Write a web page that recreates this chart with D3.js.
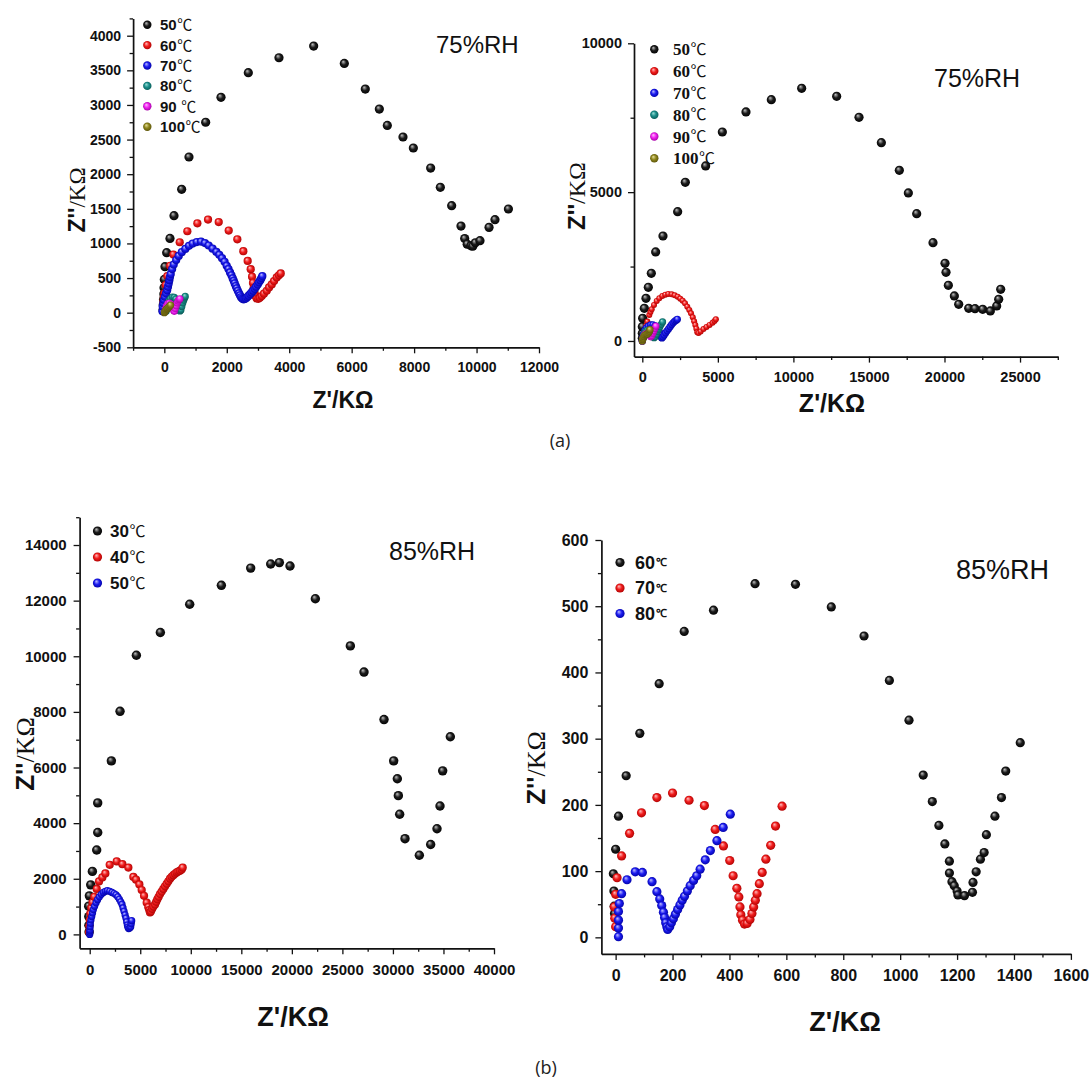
<!DOCTYPE html>
<html>
<head>
<meta charset="utf-8">
<script src="https://cdn.jsdelivr.net/npm/d3@7"></script>
<style>
  body { margin: 0; background: #fff; }
  svg { display: block; }
</style>
</head>
<body>
<svg id="fig" width="1092" height="1081"></svg>
<script>
// ---------------- Nyquist data: [Z' (kΩ), Z'' (kΩ)] ----------------
// (a) left, 75%RH
const a1_50C = [[-40,40],[-35,110],[-25,190],[-15,270],[-10,360],[0,480],[21,664],[75,866],[181,1073],[310,1401],[555,1781],[790,2248],[1324,2750],[1815,3110],[2690,3466],[3672,3682],[4783,3851],[5765,3600],[6437,3230],[6886,2941],[7142,2705],[7644,2537],[7975,2378],[8530,2089],[8840,1810],[9203,1545],[9502,1251],[9620,1070],[9700,990],[9820,965],[9880,960],[9960,1010],[10110,1040],[10400,1232],[10590,1343],[11020,1497]];
const a1_60C = [[-40,20],[-35,70],[-30,120],[-25,170],[-15,225],[0,280],[43,399],[96,528],[185,678],[290,840],[493,1017],[737,1176],[1058,1291],[1400,1344],[1742,1309],[2062,1186],[2338,1060],[2530,888],[2670,748],[2767,628],[2810,520],[2840,430],[2860,351],[2890,290],[2920,240],[2960,205],[3010,200],[3060,215],[3120,240],[3190,275],[3280,317],[3354,365],[3440,408],[3514,456],[3600,509],[3670,540],[3728,567]];
const a1_70C = [[-60,20],[-51,86],[-30,135],[-10,183],[20,230],[54,279],[90,325],[118,374],[140,420],[160,470],[180,515],[205,557],[250,630],[301,696],[380,760],[461,820],[560,875],[673,921],[790,965],[909,998],[1040,1020],[1175,1027],[1300,1005],[1421,970],[1545,925],[1667,878],[1760,835],[1848,787],[1930,735],[1998,677],[2055,630],[2104,581],[2150,540],[2190,495],[2225,460],[2254,423],[2290,385],[2318,351],[2355,315],[2393,279],[2425,250],[2457,222],[2495,203],[2530,193],[2575,197],[2617,207],[2660,225],[2702,245],[2750,268],[2798,293],[2845,318],[2895,345],[2940,375],[2991,408],[3030,440],[3075,470],[3110,500],[3139,528]];
const a1_80C = [[60,20],[80,70],[110,120],[150,170],[200,205],[260,225],[320,220],[370,195],[410,150],[440,100],[470,55],[500,25],[530,40],[560,90],[590,140],[620,180],[650,215],[670,235]];
const a1_90C = [[20,20],[40,60],[70,100],[110,130],[160,140],[210,125],[250,95],[280,60],[300,30],[320,20],[350,60],[380,100],[410,140],[440,170],[470,190],[500,200]];
const a1_100C = [[0,0],[20,15],[40,30],[60,45],[85,55],[110,65],[140,80],[170,95],[200,110]];

// (a) right, 75%RH
const a2_50C = [[0,90],[0,260],[0,480],[22,761],[132,1097],[243,1433],[397,1803],[596,2273],[883,2990],[1368,3527],[2339,4345],[2846,5330],[4192,5879],[5296,7021],[6862,7693],[8539,8107],[10547,8488],[12864,8219],[14342,7514],[15821,6663],[17012,5733],[17608,4972],[18160,4278],[19241,3303],[20035,2609],[20101,2307],[20256,1870],[20653,1512],[20940,1232],[21602,1097],[22021,1086],[22528,1064],[23036,1008],[23455,1176],[23588,1400],[23720,1736]];
const a2_60C = [[0,30],[20,100],[50,180],[100,270],[179,370],[250,510],[331,650],[463,873],[540,970],[622,1064],[774,1209],[953,1344],[1125,1434],[1324,1512],[1522,1556],[1721,1579],[1946,1568],[2144,1534],[2343,1489],[2515,1422],[2674,1355],[2826,1265],[2978,1153],[3111,1041],[3223,929],[3340,795],[3430,661],[3510,537],[3580,414],[3640,290],[3720,270],[3860,320],[4050,400],[4250,470],[4450,540],[4650,610],[4780,670],[4870,728]];
const a2_70C = [[0,0],[30,120],[80,240],[160,350],[270,440],[400,500],[550,540],[700,545],[850,510],[980,440],[1080,360],[1160,270],[1220,190],[1270,120],[1300,100],[1370,140],[1450,200],[1540,270],[1640,340],[1740,410],[1840,480],[1940,550],[2040,610],[2140,660],[2240,700],[2320,730]];
const a2_80C = [[0,0],[30,100],[80,190],[150,270],[240,330],[340,360],[450,350],[560,300],[650,230],[720,160],[780,110],[840,140],[920,230],[1000,320],[1080,400],[1160,480],[1250,560],[1340,640]];
const a2_90C = [[0,0],[30,80],[80,150],[150,210],[240,250],[340,260],[430,230],[500,180],[560,140],[620,180],[690,260],[760,340],[830,420],[900,500]];
const a2_100C = [[0,0],[20,50],[50,100],[100,150],[160,190],[230,215],[300,230],[360,240],[420,280],[470,330],[510,380]];

// (b) left, 85%RH
const b1_30C = [[-60,90],[-80,330],[-90,640],[-100,1015],[-33,1386],[99,1782],[264,2265],[692,3033],[791,3664],[791,4728],[2143,6239],[3001,8021],[4617,10038],[6991,10856],[9893,11871],[13026,12551],[15928,13170],[17906,13319],[18764,13368],[19819,13244],[22325,12069],[25787,10373],[27139,9432],[29118,7724],[30074,6239],[30437,5595],[30536,4988],[30668,4320],[31195,3441],[32613,2847],[33734,3231],[34361,3800],[34658,4617],[34922,5880],[35680,7105]];
const b1_40C = [[-60,80],[-40,300],[0,520],[60,750],[150,950],[280,1150],[450,1350],[692,1634],[923,1906],[1250,2050],[1550,2191],[1979,2500],[2671,2624],[3232,2525],[3825,2401],[4320,2067],[4584,1968],[4913,1795],[5144,1597],[5375,1386],[5639,1139],[5800,980],[5900,870],[5969,790],[6060,830],[6180,920],[6300,1000],[6463,1077],[6580,1170],[6694,1263],[6820,1350],[6958,1448],[7120,1540],[7288,1634],[7450,1730],[7617,1820],[7780,1910],[7947,2005],[8110,2070],[8277,2129],[8440,2180],[8607,2228],[8770,2260],[8937,2290],[9100,2330],[9200,2401]];
const b1_50C = [[0,0],[10,80],[20,150],[40,270],[60,396],[120,520],[198,644],[280,770],[363,891],[480,1010],[627,1139],[780,1250],[956,1349],[1150,1440],[1352,1510],[1550,1550],[1748,1572],[1980,1550],[2209,1510],[2410,1470],[2605,1423],[2780,1350],[2935,1263],[3070,1170],[3199,1077],[3300,950],[3397,829],[3500,700],[3594,582],[3660,450],[3726,334],[3780,260],[3858,210],[3960,230],[4056,272],[4110,380],[4155,495]];

// (b) right, 85%RH
const b2_60C = [[-4,36],[-5,47],[-6,70],[-8,96],[0,133],[10,183],[37,244],[85,308],[153,383],[241,462],[344,494],[490,534],[632,533],[758,499],[873,455],[962,388],[1031,328],[1081,245],[1113,205],[1136,169],[1157,141],[1173,115],[1173,97],[1182,84],[1190,78],[1200,70],[1203,64],[1226,63],[1254,68],[1256,83],[1267,99],[1282,118],[1295,128],[1303,155],[1333,183],[1356,211],[1371,251],[1422,294]];
const b2_70C = [[0,16],[-3,29],[-5,46],[0,65],[5,90],[21,123],[49,157],[91,188],[145,211],[200,218],[258,207],[312,199],[350,163],[379,138],[401,116],[413,93],[426,74],[433,61],[437,46],[440,34],[446,26],[453,20],[462,21],[472,27],[479,36],[485,46],[491,56],[497,66],[505,81],[515,98],[528,118],[545,139],[562,168],[585,198]];
const b2_80C = [[10,1],[10,14],[10,26],[10,39],[13,51],[21,66],[40,87],[69,99],[94,98],[128,84],[145,69],[155,58],[162,48],[168,38],[172,30],[176,22],[180,16],[183,12],[190,16],[196,22],[203,28],[210,35],[218,42],[226,49],[234,56],[242,62],[252,70],[262,78],[274,86],[285,93],[297,103],[315,117],[333,131],[356,146],[378,166],[403,186]];

// ---------------- text ----------------
const legendA1 = ['50', '60', '70', '80', '90 ', '100'];
const legendA2 = ['50', '60', '70', '80', '90', '100'];
const legendB1 = ['30', '40', '50'];
const legendB2 = ['60', '70', '80'];
const degreeSign = '℃';
const rhLabels = ['75%RH', '75%RH', '85%RH', '85%RH'];
const captions = ['(a)', '(b)'];
const xTitle = "Z'/KΩ";

// x / y tick values
const a1xMajor = d3.range(0, 12001, 2000),  a1xMinor = d3.range(-1000, 12000, 2000);
const a1yMajor = d3.range(-500, 4001, 500), a1yMinor = d3.range(-250, 4251, 500);
const a2xMajor = d3.range(0, 25001, 5000),  a2xMinor = d3.range(2500, 27501, 5000);
const a2yMajor = [0, 5000, 10000],          a2yMinor = [2500, 7500];
const b1xMajor = d3.range(0, 40001, 5000),  b1xMinor = d3.range(2500, 40000, 5000);
const b1yMajor = d3.range(0, 14001, 2000),  b1yMinor = d3.range(1000, 15001, 2000);
const b2xMajor = d3.range(0, 1601, 200),    b2xMinor = d3.range(100, 1600, 200);
const b2yMajor = d3.range(0, 601, 100),     b2yMinor = d3.range(50, 600, 100);

// ---------------- styling ----------------
const SANS = "'Liberation Sans', Arial, sans-serif";
const SERIF = "'Liberation Serif', 'Times New Roman', serif";
const CJK = "'Noto Sans CJK SC', sans-serif";
const shades = {
  black:   ['#c4c4c4', '#1c1c1c', '#000000'],
  red:     ['#ffc0c0', '#f01c1c', '#a80000'],
  blue:    ['#c0c0ff', '#1c1cf0', '#0000a0'],
  teal:    ['#a0e0d8', '#1a8e8a', '#085854'],
  magenta: ['#ffc0ff', '#f020f0', '#a000a0'],
  olive:   ['#e8e0a0', '#8e861c', '#585008']
};

const svg = d3.select('#fig');
const defs = svg.append('defs');
Object.entries(shades).forEach(([k, c]) => {
  const g = defs.append('radialGradient').attr('id', 'ball-' + k)
    .attr('cx', 0.5).attr('cy', 0.5).attr('r', 0.55).attr('fx', 0.36).attr('fy', 0.3);
  g.append('stop').attr('offset', 0).attr('stop-color', c[0]);
  g.append('stop').attr('offset', 0.5).attr('stop-color', c[1]);
  g.append('stop').attr('offset', 1).attr('stop-color', c[2]);
});

const panels = [
  {
    xDomain: [-1000, 12000], xRange: [133.1, 539], yDomain: [-500, 4250], yRange: [347.3, 18.4],
    xMajor: a1xMajor, xMinor: a1xMinor, yMajor: a1yMajor, yMinor: a1yMinor,
    tickFont: 14, xPad: 9, yPad: 6,
    series: [a1_50C, a1_60C, a1_70C, a1_80C, a1_90C, a1_100C],
    colors: ['black', 'red', 'blue', 'teal', 'magenta', 'olive'],
    radii: [4.6, 4.1, 4.1, 3.6, 3.6, 3.6],
    legend: { labels: legendA1, x: 147.3, y: 24.7, dy: 20.4, r: 4.2, tx: 160, font: SANS, size: 15, unit: 15, unitFont: CJK, unitWeight: 'normal' },
    rh: { text: rhLabels[0], x: 436, y: 53, size: 24 },
    xt: { x: 343, y: 408, size: 23 }, yt: { x: 77, y: 200, size: 23 }
  },
  {
    xDomain: [-550, 27500], xRange: [634, 1057.8], yDomain: [-525, 10000], yRange: [356.6, 43.3],
    xMajor: a2xMajor, xMinor: a2xMinor, yMajor: a2yMajor, yMinor: a2yMinor,
    tickFont: 14.5, xPad: 9, yPad: 6,
    series: [a2_50C, a2_60C, a2_70C, a2_80C, a2_90C, a2_100C],
    colors: ['black', 'red', 'blue', 'teal', 'magenta', 'olive'],
    radii: [4.6, 3.0, 3.6, 3.6, 3.6, 3.6],
    legend: { labels: legendA2, x: 654.3, y: 49.3, dy: 21.8, r: 4.2, tx: 673, font: SERIF, size: 17, unit: 16, unitFont: CJK, unitWeight: 'normal' },
    rh: { text: rhLabels[1], x: 934, y: 86.5, size: 25 },
    xt: { x: 832, y: 412, size: 25 }, yt: { x: 577, y: 196, size: 24 }
  },
  {
    xDomain: [-1000, 40000], xRange: [79.6, 494], yDomain: [-500, 15000], yRange: [948.3, 517.2],
    xMajor: b1xMajor, xMinor: b1xMinor, yMajor: b1yMajor, yMinor: b1yMinor,
    tickFont: 15, xPad: 10, yPad: 7,
    series: [b1_30C, b1_40C, b1_50C],
    colors: ['black', 'red', 'blue'],
    radii: [4.7, 4.1, 3.6],
    legend: { labels: legendB1, x: 97.5, y: 531, dy: 26, r: 4.6, tx: 110, font: SANS, size: 17, unit: 16, unitFont: CJK, unitWeight: 'normal' },
    rh: { text: rhLabels[2], x: 389, y: 559.5, size: 25 },
    xt: { x: 293, y: 1026, size: 27 }, yt: { x: 25, y: 754, size: 26 }
  },
  {
    xDomain: [-50, 1600], xRange: [601.4, 1070.9], yDomain: [-25, 600], yRange: [953.9, 540],
    xMajor: b2xMajor, xMinor: b2xMinor, yMajor: b2yMajor, yMinor: b2yMinor,
    tickFont: 16, xPad: 10, yPad: 7,
    series: [b2_60C, b2_70C, b2_80C],
    colors: ['black', 'red', 'blue'],
    radii: [4.6, 4.6, 4.6],
    legend: { labels: legendB2, x: 620, y: 562.5, dy: 25.5, r: 4.6, tx: 635, font: SANS, size: 18, unit: 11, unitFont: SERIF, unitWeight: 'bold' },
    rh: { text: rhLabels[3], x: 956, y: 579, size: 27 },
    xt: { x: 845, y: 1031, size: 27 }, yt: { x: 536, y: 768, size: 26 }
  }
];

function fmt(d) { return String(d); }

function drawPanel(p) {
  const g = svg.append('g');
  const x = d3.scaleLinear().domain(p.xDomain).range(p.xRange);
  const y = d3.scaleLinear().domain(p.yDomain).range(p.yRange);
  const yBase = p.yRange[0], xBase = p.xRange[0];

  // minor ticks
  g.append('g').attr('transform', `translate(0,${yBase})`)
    .call(d3.axisBottom(x).tickValues(p.xMinor).tickSize(3.5).tickFormat(''))
    .call(s => s.select('.domain').remove());
  g.append('g').attr('transform', `translate(${xBase},0)`)
    .call(d3.axisLeft(y).tickValues(p.yMinor).tickSize(3.5).tickFormat(''))
    .call(s => s.select('.domain').remove());

  // major ticks with labels
  const xa = g.append('g').attr('transform', `translate(0,${yBase})`)
    .call(d3.axisBottom(x).tickValues(p.xMajor).tickSize(6).tickSizeOuter(0).tickPadding(p.xPad).tickFormat(fmt));
  const ya = g.append('g').attr('transform', `translate(${xBase},0)`)
    .call(d3.axisLeft(y).tickValues(p.yMajor).tickSize(6).tickSizeOuter(0).tickPadding(p.yPad).tickFormat(fmt));
  [xa, ya].forEach(a => a.selectAll('text')
    .attr('font-family', SANS).attr('font-weight', 'bold')
    .attr('font-size', p.tickFont).attr('fill', '#111'));
  g.selectAll('.domain').attr('stroke', '#111').attr('stroke-width', 1.7);
  g.selectAll('.tick line').attr('stroke', '#111').attr('stroke-width', 1.3);

  // data points, one layer per series
  p.series.forEach((pts, i) => {
    g.append('g').selectAll('circle').data(pts).join('circle')
      .attr('cx', d => x(d[0])).attr('cy', d => y(d[1]))
      .attr('r', p.radii[i])
      .attr('fill', `url(#ball-${p.colors[i]})`);
  });

  // legend: marker, temperature number, then the degree sign set right after it
  const L = p.legend;
  L.labels.forEach((lab, i) => {
    const yy = L.y + i * L.dy;
    g.append('circle').attr('cx', L.x).attr('cy', yy).attr('r', L.r)
      .attr('fill', `url(#ball-${p.colors[i]})`);
    const num = g.append('text').attr('x', L.tx).attr('y', yy).attr('dy', '0.36em')
      .attr('font-family', L.font).attr('font-weight', 'bold').attr('font-size', L.size).attr('fill', '#111')
      .attr('xml:space', 'preserve').style('white-space', 'pre')
      .text(lab);
    const w = num.node().getComputedTextLength();
    g.append('text').attr('x', L.tx + w + 0.5).attr('y', yy).attr('dy', '0.36em')
      .attr('font-family', L.unitFont).attr('font-weight', L.unitWeight).attr('font-size', L.unit).attr('fill', '#111')
      .text(degreeSign);
  });

  // humidity tag
  g.append('text').attr('x', p.rh.x).attr('y', p.rh.y)
    .attr('font-family', SANS).attr('font-size', p.rh.size).attr('fill', '#111').text(p.rh.text);

  // axis titles
  g.append('text').attr('x', p.xt.x).attr('y', p.xt.y).attr('text-anchor', 'middle')
    .attr('font-family', SANS).attr('font-weight', 'bold').attr('font-size', p.xt.size).attr('fill', '#111')
    .text(xTitle);
  const yt = g.append('text')
    .attr('transform', `translate(${p.yt.x},${p.yt.y}) rotate(-90)`)
    .attr('text-anchor', 'middle').attr('dy', '0.35em')
    .attr('font-size', p.yt.size).attr('fill', '#111');
  yt.append('tspan').attr('font-family', SANS).attr('font-weight', 'bold').text("Z''");
  yt.append('tspan').attr('font-family', SERIF).attr('font-weight', 'normal').text('/KΩ');
}

panels.forEach(drawPanel);

// sub-figure captions
svg.append('text').attr('x', 560).attr('y', 447).attr('text-anchor', 'middle')
  .attr('font-family', "'Open Sans', Lato, sans-serif").attr('font-size', 18).attr('fill', '#222').text(captions[0]);
svg.append('text').attr('x', 546).attr('y', 1074).attr('text-anchor', 'middle')
  .attr('font-family', "'Open Sans', Lato, sans-serif").attr('font-size', 18).attr('fill', '#222').text(captions[1]);
</script>
</body>
</html>
